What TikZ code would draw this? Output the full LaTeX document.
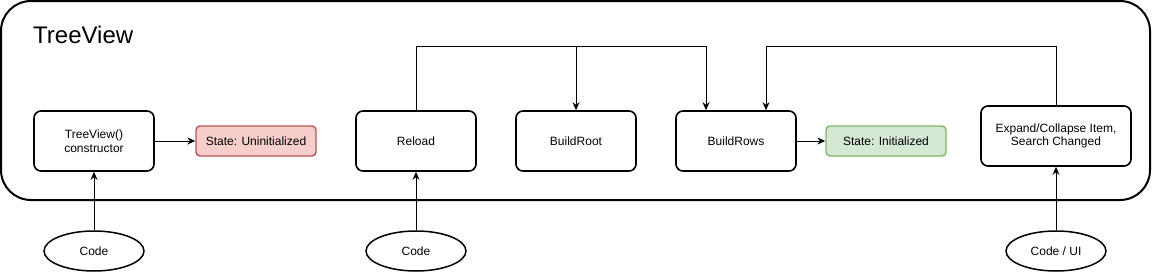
\documentclass[tikz,border=0pt]{standalone}
\usepackage{fontspec}
\setmainfont{Liberation Sans}
\usetikzlibrary{arrows.meta,shapes.geometric}
\definecolor{redfill}{HTML}{F8CECC}
\definecolor{redline}{HTML}{B85450}
\definecolor{greenfill}{HTML}{D5E8D4}
\definecolor{greenline}{HTML}{82B366}
\begin{document}
\begin{tikzpicture}[x=1pt,y=-1pt,
  container/.style={draw, line width=2pt, rounded corners=30pt, minimum width=1149pt, minimum height=199pt, inner sep=0pt},
  box/.style={draw, line width=1.6pt, rounded corners=7pt, minimum width=120pt, minimum height=60pt, font=\fontsize{12}{13.5}\selectfont, align=center, inner sep=0pt},
  statebox/.style={draw, line width=1.4pt, rounded corners=4pt, minimum width=120pt, minimum height=30pt, font=\fontsize{12}{13.5}\selectfont, inner sep=0pt},
  src/.style={draw, ellipse, line width=1.5pt, minimum width=100pt, minimum height=40pt, inner sep=0pt, font=\fontsize{12}{13.5}\selectfont},
  conn/.style={line width=1pt, -{Stealth[length=8pt,width=7pt]}}
]
\useasboundingbox (0,0) rectangle (1152,273);
\node[container] (frame) at (575.5,100.5) {};
\node[anchor=base west, font=\fontsize{24}{28}\selectfont, inner sep=0pt] (title) at (33,43) {TreeView};

\node[box] (ctor) at (94,141) {TreeView()\\constructor};
\node[statebox, fill=redfill, draw=redline] (st1) at (256,141) {State: Uninitialized};
\node[box] (reload) at (416,141) {Reload};
\node[box] (buildroot) at (576,141) {BuildRoot};
\node[box] (buildrows) at (736,141) {BuildRows};
\node[statebox, fill=greenfill, draw=greenline] (st2) at (886,141) {State: Initialized};
\node[box, minimum width=150pt] (expand) at (1056,136) {Expand/Collapse Item,\\Search Changed};

\node[src] (code1) at (94,251) {Code};
\node[src] (code2) at (416,251) {Code};
\node[src] (code3) at (1056,251) {Code / UI};

\coordinate (topy) at (0,46);

\draw[conn] (code1.north) -- (ctor.south);
\draw[conn] (ctor) -- (st1);
\draw[conn] (code2.north) -- (reload.south);
\draw[conn] (reload.north) -- (reload.north |- topy) -| (buildroot.north);
\draw[conn] (reload.north) -- (reload.north |- topy) -| ([xshift=-30pt]buildrows.north);
\draw[conn] (expand.north) -- (expand.north |- topy) -| ([xshift=30pt]buildrows.north);
\draw[conn] (buildrows) -- (st2);
\draw[conn] (code3.north) -- (expand.south);
\end{tikzpicture}
\end{document}
